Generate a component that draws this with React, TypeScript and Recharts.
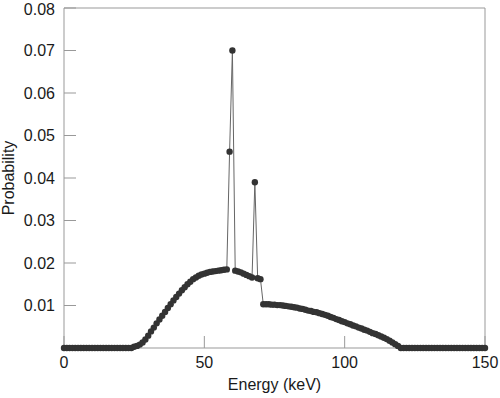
import React from "react";
import { LineChart, Line, XAxis, YAxis, ReferenceLine } from "recharts";

const energies: number[] = [
  0, 1, 2, 3, 4, 5, 6, 7, 8, 9, 10, 11, 12, 13, 14, 15, 16, 17, 18, 19,
  20, 21, 22, 23, 24, 25, 26, 27, 28, 29, 30, 31, 32, 33, 34, 35, 36, 37, 38, 39,
  40, 41, 42, 43, 44, 45, 46, 47, 48, 49, 50, 51, 52, 53, 54, 55, 56, 57, 58, 59,
  60, 61, 62, 63, 64, 65, 66, 67, 68, 69, 70, 71, 72, 73, 74, 75, 76, 77, 78, 79,
  80, 81, 82, 83, 84, 85, 86, 87, 88, 89, 90, 91, 92, 93, 94, 95, 96, 97, 98, 99,
  100, 101, 102, 103, 104, 105, 106, 107, 108, 109, 110, 111, 112, 113, 114, 115, 116, 117, 118, 119,
  120, 121, 122, 123, 124, 125, 126, 127, 128, 129, 130, 131, 132, 133, 134, 135, 136, 137, 138, 139,
  140, 141, 142, 143, 144, 145, 146, 147, 148, 149, 150,
];

const probabilities: number[] = [
  // 0-19
  0, 0, 0, 0, 0, 0, 0, 0, 0, 0, 0, 0, 0, 0, 0, 0, 0, 0, 0, 0,
  // 20-39
  0, 0, 0, 0, 0, 0.0003, 0.0005, 0.0008, 0.0013, 0.002,
  0.0029, 0.0039, 0.0048, 0.0058, 0.0067, 0.0076, 0.0085, 0.0094, 0.0103, 0.0112,
  // 40-59
  0.012, 0.0128, 0.0136, 0.0143, 0.015, 0.0156, 0.0162, 0.0166, 0.017, 0.0173,
  0.0175, 0.0177, 0.0179, 0.018, 0.0181, 0.0182, 0.0183, 0.0184, 0.0185, 0.0462,
  // 60-79
  0.07, 0.0182, 0.018, 0.0178, 0.0175, 0.0172, 0.0169, 0.0166, 0.039, 0.0164,
  0.0162, 0.0103, 0.0103, 0.0103, 0.0102, 0.0102, 0.0101, 0.0101, 0.01, 0.0099,
  // 80-99
  0.0098, 0.0097, 0.0096, 0.0095, 0.0093, 0.0092, 0.009, 0.0088, 0.0087, 0.0085,
  0.0084, 0.0082, 0.008, 0.0078, 0.0076, 0.0073, 0.0071, 0.0068, 0.0066, 0.0063,
  // 100-119
  0.0061, 0.0058, 0.0056, 0.0053, 0.0051, 0.0048, 0.0046, 0.0043, 0.0041, 0.0038,
  0.0035, 0.0033, 0.003, 0.0027, 0.0024, 0.0021, 0.0017, 0.0013, 0.0009, 0.0005,
  // 120-139
  0, 0, 0, 0, 0, 0, 0, 0, 0, 0, 0, 0, 0, 0, 0, 0, 0, 0, 0, 0,
  // 140-150
  0, 0, 0, 0, 0, 0, 0, 0, 0, 0, 0,
];

const xTicks: number[] = [0, 50, 100, 150];
const yTicks: number[] = [0.01, 0.02, 0.03, 0.04, 0.05, 0.06, 0.07, 0.08];
const xLabel = "Energy (keV)";
const yLabel = "Probability";

const data = energies.map((e, i) => ({ energy: e, probability: probabilities[i] }));

const FONT = "'Liberation Sans', Arial, Helvetica, sans-serif";
const AXIS_COLOR = "#999";
const TEXT_COLOR = "#1a1a1a";

export default function App() {
  return (
    <div style={{ position: "absolute", left: 0, top: 0, fontFamily: FONT }}>
      <LineChart
        width={500}
        height={398}
        data={data}
        margin={{ top: 8, right: 15, bottom: 5, left: 0 }}
      >
        <XAxis
          dataKey="energy"
          type="number"
          domain={[0, 150]}
          ticks={xTicks}
          height={45}
          stroke={AXIS_COLOR}
          tickSize={-12}
          tickMargin={21}
          tick={{ fill: TEXT_COLOR, fontSize: 16, fontFamily: FONT }}
          label={{
            value: xLabel,
            position: "insideBottom",
            offset: 3.5,
            style: { fill: TEXT_COLOR, fontSize: 16, fontFamily: FONT },
          }}
        />
        <YAxis
          type="number"
          domain={[0, 0.08]}
          ticks={yTicks}
          width={64}
          stroke={AXIS_COLOR}
          tickSize={-12}
          tickMargin={21}
          tickFormatter={(v: number) => v.toFixed(2)}
          tick={{ fill: TEXT_COLOR, fontSize: 16, fontFamily: FONT }}
          label={{
            value: yLabel,
            angle: -90,
            position: "insideLeft",
            offset: 8,
            style: { fill: TEXT_COLOR, fontSize: 16, fontFamily: FONT, textAnchor: "middle" },
          }}
        />
        <ReferenceLine y={0.08} stroke={AXIS_COLOR} strokeWidth={1} />
        <ReferenceLine x={150} stroke={AXIS_COLOR} strokeWidth={1} />
        <Line
          type="linear"
          dataKey="probability"
          stroke="#666"
          strokeWidth={1}
          dot={{ r: 3.2, fill: "#333", stroke: "none" }}
          activeDot={false}
          isAnimationActive={false}
        />
      </LineChart>
    </div>
  );
}
